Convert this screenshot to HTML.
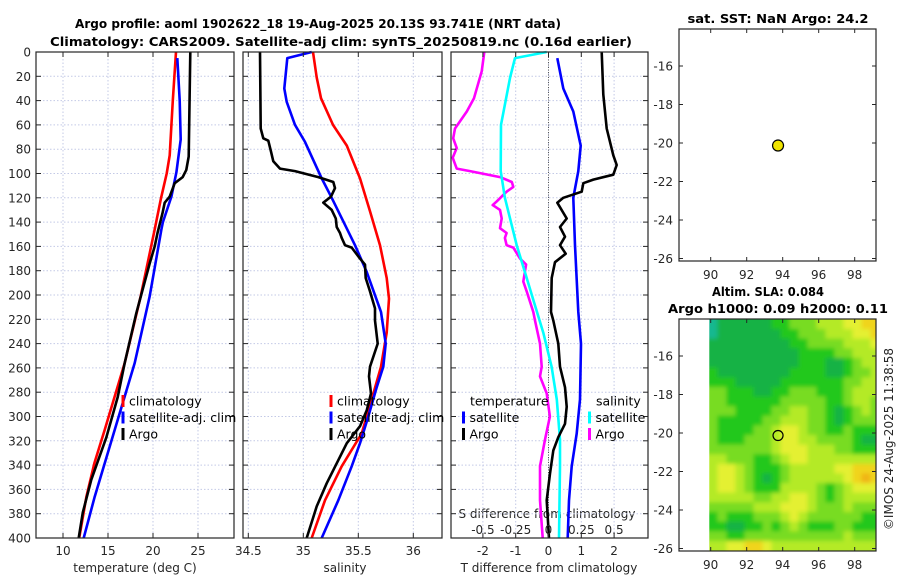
<!DOCTYPE html>
<html><head><meta charset="utf-8"><title>Argo profile 1902622_18</title>
<style>
html,body{margin:0;padding:0;background:#fff;}
svg{display:block;font-family:"DejaVu Sans","Liberation Sans",sans-serif;}
.tk{font-size:12px;fill:#262626;}
.tt{font-size:12.5px;font-weight:bold;fill:#000;}
.lg{font-size:12.5px;fill:#000;}
</style></head>
<body>
<svg id="chart" xmlns="http://www.w3.org/2000/svg" width="900" height="580" viewBox="0 0 900 580">
<defs>
<filter id="soft" x="-5%" y="-5%" width="110%" height="110%"><feGaussianBlur stdDeviation="2.2"/></filter>
</defs>
<rect x="0" y="0" width="900" height="580" fill="#fff"/>
<text class="tt" x="318" y="28" text-anchor="middle" textLength="486" lengthAdjust="spacingAndGlyphs">Argo profile: aoml 1902622_18 19-Aug-2025 20.13S 93.741E (NRT data)</text>
<text class="tt" x="341" y="46" text-anchor="middle" textLength="582" lengthAdjust="spacingAndGlyphs">Climatology: CARS2009. Satellite-adj clim: synTS_20250819.nc (0.16d earlier)</text>
<text class="tt" x="778" y="23" text-anchor="middle" textLength="181" lengthAdjust="spacingAndGlyphs">sat. SST: NaN Argo: 24.2</text>
<text class="tt" x="768" y="296" text-anchor="middle" textLength="112" lengthAdjust="spacingAndGlyphs">Altim. SLA: 0.084</text>
<text class="tt" x="778" y="313" text-anchor="middle" textLength="220" lengthAdjust="spacingAndGlyphs">Argo h1000: 0.09 h2000: 0.11</text>
<text class="tk" x="135" y="572" text-anchor="middle">temperature (deg C)</text>
<text class="tk" x="345" y="572" text-anchor="middle">salinity</text>
<text class="tk" x="549" y="572" text-anchor="middle">T difference from climatology</text>
<text class="tk" x="547" y="518" text-anchor="middle">S difference from climatology</text>
<text class="tk" x="0" y="0" transform="translate(893,439) rotate(-90)" text-anchor="middle">©IMOS 24-Aug-2025 11:38:58</text>
<g id="layer"></g>
</svg>
<script>
// ---------- data ----------
const depthTicks = [0,20,40,60,80,100,120,140,160,180,200,220,240,260,280,300,320,340,360,380,400];
// Panel 1 temperature
const tClimDepth = [0,40,85,100,120,146,201,256,311,338,366,400];
const tClimVal   = [22.55,22.2,21.86,21.52,20.9,20.19,18.63,16.86,14.63,13.5,12.6,11.8];
const tSatDepth  = [5,40,72,99,119,140,146,201,256,311,366,400];
const tSatVal    = [22.7,22.97,23.08,22.6,22.04,21.1,20.93,19.63,17.97,15.74,13.52,12.3];
const tArgoDepth = [0,86,97,103,108,119,124,133,149,160,174,215,256,284,317,352,379,400];
const tArgoVal   = [24.15,23.97,23.7,23.3,22.41,21.86,21.3,21.04,20.5,20.19,19.63,18.15,16.86,16.08,14.82,13.15,12.2,11.74];
// Panel 2 salinity
const sClimDepth = [0,21,38,60,77,104,131,159,186,203,231,259,286,314,341,369,400];
const sClimVal   = [35.088,35.122,35.161,35.27,35.395,35.515,35.606,35.697,35.758,35.779,35.758,35.706,35.622,35.531,35.349,35.197,35.076];
const sSatDepth  = [0,5,30,41,60,74,104,120,159,181,214,240,259,276,300,322,341,369,400];
const sSatVal    = [35.076,34.855,34.827,34.849,34.925,35.015,35.167,35.258,35.47,35.576,35.706,35.749,35.727,35.667,35.591,35.515,35.44,35.318,35.167];
const sArgoDepth = [0,63,71,73,82,90,96,98,103,107,112,119,124,130,137,144,149,153,159,161,170,175,186,197,211,221,240,259,267,281,295,308,322,336,355,374,400];
const sArgoVal   = [34.606,34.613,34.636,34.682,34.706,34.727,34.788,34.925,35.136,35.273,35.288,35.252,35.182,35.258,35.295,35.304,35.334,35.349,35.379,35.44,35.515,35.561,35.567,35.606,35.652,35.652,35.676,35.606,35.597,35.615,35.576,35.515,35.395,35.318,35.213,35.122,35.031];
// Panel 3 differences
const dSArgoDepth = [0,16,38,49,63,71,79,87,96,98,103,107,111,115,123,126,130,137,145,149,153,159,161,170,175,189,197,214,221,240,259,267,281,300,319,341,369,400];
const dSArgoVal   = [-0.489,-0.509,-0.568,-0.623,-0.713,-0.726,-0.700,-0.730,-0.700,-0.598,-0.370,-0.280,-0.268,-0.319,-0.395,-0.425,-0.370,-0.357,-0.370,-0.319,-0.332,-0.319,-0.268,-0.217,-0.171,-0.192,-0.166,-0.116,-0.103,-0.065,-0.052,-0.065,-0.014,0.011,-0.027,-0.065,-0.065,-0.044];
const dSSatDepth  = [0,5,21,60,98,120,159,186,204,231,259,286,319,341,400];
const dSSatVal    = [-0.014,-0.255,-0.293,-0.362,-0.364,-0.332,-0.242,-0.166,-0.116,-0.040,0.024,0.063,0.088,0.088,0.080];
const dTSatDepth  = [5,30,49,77,98,120,159,214,240,286,314,341,369,400];
const dTSatVal    = [0.268,0.451,0.756,0.982,0.909,0.756,0.808,0.909,0.991,0.960,0.860,0.707,0.625,0.585];
const dTArgoDepth = [0,35,63,85,93,101,105,108,115,120,124,137,144,152,159,166,173,186,214,221,240,259,276,292,306,317,328,347,369,400];
const dTArgoVal   = [1.622,1.671,1.774,1.976,2.079,1.976,1.366,1.061,1.012,0.451,0.268,0.555,0.351,0.503,0.351,0.524,0.198,0.098,0.076,0.146,0.299,0.351,0.503,0.555,0.503,0.299,0.146,0.046,-0.055,0.015];
// axis ticks
const tempTicks = [10,15,20,25];
const salTicks = [34.5,35,35.5,36];
const salTickLabels = ["34.5","35","35.5","36"];
const dTTicks = [-2,-1,0,1,2];
const dSTicks = [-0.5,-0.25,0,0.25,0.5];
const dSTickLabels = ["-0.5","-0.25","0","0.25","0.5"];
const lonTicks = [90,92,94,96,98];
const latTicks = [-16,-18,-20,-22,-24,-26];
// maps
const argoLon = [93.741];
const argoLat = [-20.13];
const slaLon0 = 89.875, slaLonStep = 0.5, slaLat0 = -14.1, slaLatStep = 0.5;
const slaLevels = [
[0,1,1,1,1,1,1,2,2,3,3,3,4,4,4,5,5,6,6],
[0,1,1,1,1,1,1,1,2,2,3,3,3,4,4,4,5,5,6],
[1,1,1,1,1,1,1,1,1,2,2,3,3,3,3,4,4,4,5],
[1,1,1,1,1,1,1,1,1,1,2,2,2,2,3,3,4,4,4],
[1,1,1,1,1,1,1,1,1,1,2,2,2,1,1,2,3,4,4],
[2,1,1,1,1,1,1,1,1,2,2,2,2,1,1,2,3,3,4],
[2,2,2,1,1,1,1,1,2,2,2,2,2,2,2,3,3,4,4],
[3,3,2,2,2,1,1,2,2,3,3,3,2,2,2,3,4,4,4],
[3,3,2,2,2,2,2,2,3,3,3,3,3,2,2,3,4,4,3],
[3,3,3,2,2,2,2,3,3,4,4,3,3,2,1,2,3,4,3],
[3,2,2,2,2,2,3,3,4,4,4,3,3,2,1,2,3,3,3],
[3,2,2,2,2,3,3,4,5,5,4,3,3,2,2,3,2,2,2],
[3,2,2,2,3,3,3,4,5,5,4,4,3,3,3,3,2,1,1],
[3,3,3,3,3,3,3,4,5,5,5,4,4,4,3,3,2,2,2],
[4,4,3,3,3,2,2,3,4,5,5,4,4,4,4,4,4,4,4],
[4,5,5,4,3,2,2,2,3,4,4,4,4,4,5,5,6,6,6],
[4,5,5,4,3,2,1,2,3,4,4,4,4,4,4,5,6,7,6],
[4,5,5,4,3,2,2,2,4,4,4,4,3,2,3,4,5,5,5],
[4,4,4,4,4,3,3,4,4,5,5,4,3,2,3,4,4,4,4],
[3,3,3,3,3,4,4,4,5,5,5,4,3,3,3,4,3,3,3],
[2,3,2,2,2,3,3,3,4,5,4,3,3,3,3,3,3,2,2],
[2,2,1,1,2,2,3,2,3,4,3,2,2,2,3,3,2,2,2],
[3,3,2,2,3,3,3,3,3,3,3,3,3,3,3,4,3,3,3],
[4,4,5,5,6,6,5,4,4,4,4,4,4,4,4,4,4,4,4]
];

// ---------- rendering ----------
const NS = 'http://www.w3.org/2000/svg';
const layer = document.getElementById('layer');
const slaColors = ["#16b890","#14b244","#22c81e","#78dc20","#b4ea26","#e4f030","#f0d41c","#f0b414"];
function el(tag, parent){ const e = document.createElementNS(NS, tag); parent.appendChild(e); return e; }
const Y0 = 52, Y1 = 538;
const yD = d => Y0 + d * (Y1 - Y0) / 400;
const P1 = {x0:36, x1:234, sx: t => 36 + (t - 7) * 9};
const P2 = {x0:243, x1:442, sx: s => 248.3 + (s - 34.5) * 110};
const P3 = {x0:451, x1:648, sx: t => 548.5 + t * 32.8};
const sxS3 = s => 548.5 + s * 131.2;

function grid(P, xt, name){
  const g = el('g', layer);
  
  
  depthTicks.forEach(d => {
    if (d === 0 || d === 400) return;
    const l = el('line', g);
    l.setAttribute('x1', P.x0); l.setAttribute('x2', P.x1);
    l.setAttribute('y1', yD(d)); l.setAttribute('y2', yD(d));
    l.setAttribute('stroke', '#c3c9e6'); l.setAttribute('stroke-dasharray', '1.5,2');
    
    
  });
  xt.forEach(v => {
    const l = el('line', g);
    const x = P.sx(v);
    l.setAttribute('x1', x); l.setAttribute('x2', x);
    l.setAttribute('y1', Y0); l.setAttribute('y2', Y1);
    l.setAttribute('stroke', '#c3c9e6'); l.setAttribute('stroke-dasharray', '1.5,2');
    
    
  });
}
function frame(P, xt, xl, name, yLabels){
  const g = el('g', layer);
  
  
  const r = el('rect', g);
  r.setAttribute('x', P.x0); r.setAttribute('y', Y0);
  r.setAttribute('width', P.x1 - P.x0); r.setAttribute('height', Y1 - Y0);
  r.setAttribute('fill', 'none'); r.setAttribute('stroke', '#262626'); r.setAttribute('stroke-width', '1.2');
  
  
  depthTicks.forEach(d => {
    const y = yD(d);
    [[P.x0, P.x0 + 5], [P.x1, P.x1 - 5]].forEach(p => {
      const l = el('line', g);
      l.setAttribute('x1', p[0]); l.setAttribute('x2', p[1]); l.setAttribute('y1', y); l.setAttribute('y2', y);
      l.setAttribute('stroke', '#262626');
      
      
    });
    if (yLabels) {
      const t = el('text', g);
      t.setAttribute('x', 31); t.setAttribute('y', y + 4.5); t.setAttribute('text-anchor', 'end'); t.setAttribute('class', 'tk');
      t.textContent = String(d);
      
      
    }
  });
  xt.forEach((v, i) => {
    const x = P.sx(v);
    [[Y1, Y1 - 5], [Y0, Y0 + 5]].forEach(p => {
      const l = el('line', g);
      l.setAttribute('x1', x); l.setAttribute('x2', x); l.setAttribute('y1', p[0]); l.setAttribute('y2', p[1]);
      l.setAttribute('stroke', '#262626');
      
      
    });
    const t = el('text', g);
    t.setAttribute('x', x); t.setAttribute('y', 555); t.setAttribute('text-anchor', 'middle'); t.setAttribute('class', 'tk');
    t.textContent = xl[i];
    
    
  });
}
function series(sx, depths, vals, color, name){
  const p = el('polyline', layer);
  p.setAttribute('points', depths.map((d, i) => sx(vals[i]).toFixed(1) + ',' + yD(d).toFixed(1)).join(' '));
  p.setAttribute('fill', 'none'); p.setAttribute('stroke', color); p.setAttribute('stroke-width', '2.6');
  p.setAttribute('stroke-linejoin', 'round');
  
  
}
function legend(x, y, color, label, name){
  const r = el('rect', layer);
  r.setAttribute('x', x - 1.5); r.setAttribute('y', y - 6); r.setAttribute('width', 3); r.setAttribute('height', 12); r.setAttribute('fill', color);
  
  
  const t = el('text', layer);
  t.setAttribute('x', x + 6); t.setAttribute('y', y + 4.5); t.setAttribute('class', 'lg');
  t.textContent = label;
  
  
}
function textAt(x, y, s, anchor, name){
  const t = el('text', layer);
  t.setAttribute('x', x); t.setAttribute('y', y); t.setAttribute('class', 'lg'); t.setAttribute('text-anchor', anchor);
  t.textContent = s;
  
  
}

// Panel 1
grid(P1, tempTicks, 'temperature-panel');
series(P1.sx, tClimDepth, tClimVal, '#ff0000', 'temperature-climatology-line');
series(P1.sx, tSatDepth, tSatVal, '#0000ff', 'temperature-satellite-line');
series(P1.sx, tArgoDepth, tArgoVal, '#000000', 'temperature-argo-line');
frame(P1, tempTicks, tempTicks.map(String), 'temperature-panel', true);
legend(123, 401, '#ff0000', 'climatology', 'legend-entry-climatology');
legend(123, 417.5, '#0000ff', 'satellite-adj. clim', 'legend-entry-satellite-adj');
legend(123, 434, '#000000', 'Argo', 'legend-entry-argo');

// Panel 2
grid(P2, salTicks, 'salinity-panel');
series(P2.sx, sClimDepth, sClimVal, '#ff0000', 'salinity-climatology-line');
series(P2.sx, sSatDepth, sSatVal, '#0000ff', 'salinity-satellite-line');
series(P2.sx, sArgoDepth, sArgoVal, '#000000', 'salinity-argo-line');
frame(P2, salTicks, salTickLabels, 'salinity-panel', false);
legend(331, 401, '#ff0000', 'climatology', 'legend-entry-climatology');
legend(331, 417.5, '#0000ff', 'satellite-adj. clim', 'legend-entry-satellite-adj');
legend(331, 434, '#000000', 'Argo', 'legend-entry-argo');

// Panel 3
grid(P3, dTTicks, 'difference-panel');
const zl = el('line', layer);
zl.setAttribute('x1', P3.sx(0)); zl.setAttribute('x2', P3.sx(0)); zl.setAttribute('y1', Y0); zl.setAttribute('y2', Y1);
zl.setAttribute('stroke', '#555'); zl.setAttribute('stroke-dasharray', '1,1.5');


series(sxS3, dSArgoDepth, dSArgoVal, '#ff00ff', 'salinity-diff-argo-line');
series(sxS3, dSSatDepth, dSSatVal, '#00ffff', 'salinity-diff-satellite-line');
series(P3.sx, dTSatDepth, dTSatVal, '#0000ff', 'temperature-diff-satellite-line');
series(P3.sx, dTArgoDepth, dTArgoVal, '#000000', 'temperature-diff-argo-line');
frame(P3, dTTicks, dTTicks.map(String), 'difference-panel', false);
dSTicks.forEach((v, i) => {
  const t = el('text', layer);
  t.setAttribute('x', sxS3(v)); t.setAttribute('y', 534); t.setAttribute('text-anchor', 'middle'); t.setAttribute('class', 'tk');
  t.textContent = dSTickLabels[i];
  
  
});
textAt(470, 405.5, 'temperature', 'start', 'legend-title-temperature');
legend(463.5, 417.5, '#0000ff', 'satellite', 'legend-entry-t-satellite');
legend(463.5, 434, '#000000', 'Argo', 'legend-entry-t-argo');
textAt(596, 405.5, 'salinity', 'start', 'legend-title-salinity');
legend(589.5, 417.5, '#00ffff', 'satellite', 'legend-entry-s-satellite');
legend(589.5, 434, '#ff00ff', 'Argo', 'legend-entry-s-argo');

// Maps
const MX0 = 679, MX1 = 876;
const mx = lon => 710.7 + (lon - 90) * 18;
function mapFrame(top, bottom, lat16, name){
  const my = lat => lat16 + (-16 - lat) * 19.25;
  const g = el('g', layer);
  
  
  const r = el('rect', g);
  r.setAttribute('x', MX0); r.setAttribute('y', top); r.setAttribute('width', MX1 - MX0); r.setAttribute('height', bottom - top);
  r.setAttribute('fill', 'none'); r.setAttribute('stroke', '#262626'); r.setAttribute('stroke-width', '1.2');
  
  
  latTicks.forEach(v => {
    const y = my(v);
    [[MX0, MX0 + 4], [MX1, MX1 - 4]].forEach(p => {
      const l = el('line', g);
      l.setAttribute('x1', p[0]); l.setAttribute('x2', p[1]); l.setAttribute('y1', y); l.setAttribute('y2', y); l.setAttribute('stroke', '#262626');
      
      
    });
    const t = el('text', g);
    t.setAttribute('x', 673); t.setAttribute('y', y + 4.5); t.setAttribute('text-anchor', 'end'); t.setAttribute('class', 'tk');
    t.textContent = String(v);
    
    
  });
  lonTicks.forEach(v => {
    const x = mx(v);
    [[bottom, bottom - 4], [top, top + 4]].forEach(p => {
      const l = el('line', g);
      l.setAttribute('x1', x); l.setAttribute('x2', x); l.setAttribute('y1', p[0]); l.setAttribute('y2', p[1]); l.setAttribute('stroke', '#262626');
      
      
    });
    const t = el('text', g);
    t.setAttribute('x', x); t.setAttribute('y', bottom + 18); t.setAttribute('text-anchor', 'middle'); t.setAttribute('class', 'tk');
    t.textContent = String(v);
    
    
  });
  return my;
}
// SLA heatmap
const my5 = lat => 356 + (-16 - lat) * 19.25;
const clip = el('clipPath', layer);
clip.setAttribute('id', 'slaclip');
const cr = el('rect', clip);
cr.setAttribute('x', 709.3); cr.setAttribute('y', 319); cr.setAttribute('width', MX1 - 709.3); cr.setAttribute('height', 232);
const hmOuter = el('g', layer);
hmOuter.setAttribute('clip-path', 'url(#slaclip)');


const hm = el('g', hmOuter);
hm.setAttribute('filter', 'url(#soft)');


const nRows = slaLevels.length;
slaLevels.forEach((row, r) => {
  row.forEach((v, c) => {
    const lonA = slaLon0 + c * slaLonStep, latA = slaLat0 - r * slaLatStep;
    let x0 = mx(lonA), x1 = mx(lonA + slaLonStep), y0 = my5(latA), y1 = my5(latA - slaLatStep);
    if (c === 0) x0 -= 12;
    if (c === row.length - 1) x1 += 12;
    if (r === 0) y0 -= 12;
    if (r === nRows - 1) y1 += 12;
    const cell = el('rect', hm);
    cell.setAttribute('x', x0.toFixed(2)); cell.setAttribute('y', y0.toFixed(2));
    cell.setAttribute('width', (x1 - x0 + 0.4).toFixed(2)); cell.setAttribute('height', (y1 - y0 + 0.4).toFixed(2));
    cell.setAttribute('fill', slaColors[v]);
    
    
  });
});
const my4 = mapFrame(29, 261, 66, 'sst-map');
mapFrame(319, 551, 356, 'sla-map');
const dot = el('circle', layer);
dot.setAttribute('cx', mx(argoLon[0])); dot.setAttribute('cy', my4(argoLat[0])); dot.setAttribute('r', 5.5);
dot.setAttribute('fill', '#f0e400'); dot.setAttribute('stroke', '#000'); dot.setAttribute('stroke-width', '1.2');


const ring = el('circle', layer);
ring.setAttribute('cx', mx(argoLon[0])); ring.setAttribute('cy', my5(argoLat[0])); ring.setAttribute('r', 5);
ring.setAttribute('fill', 'none'); ring.setAttribute('stroke', '#000'); ring.setAttribute('stroke-width', '1.2');


</script>
</body></html>
